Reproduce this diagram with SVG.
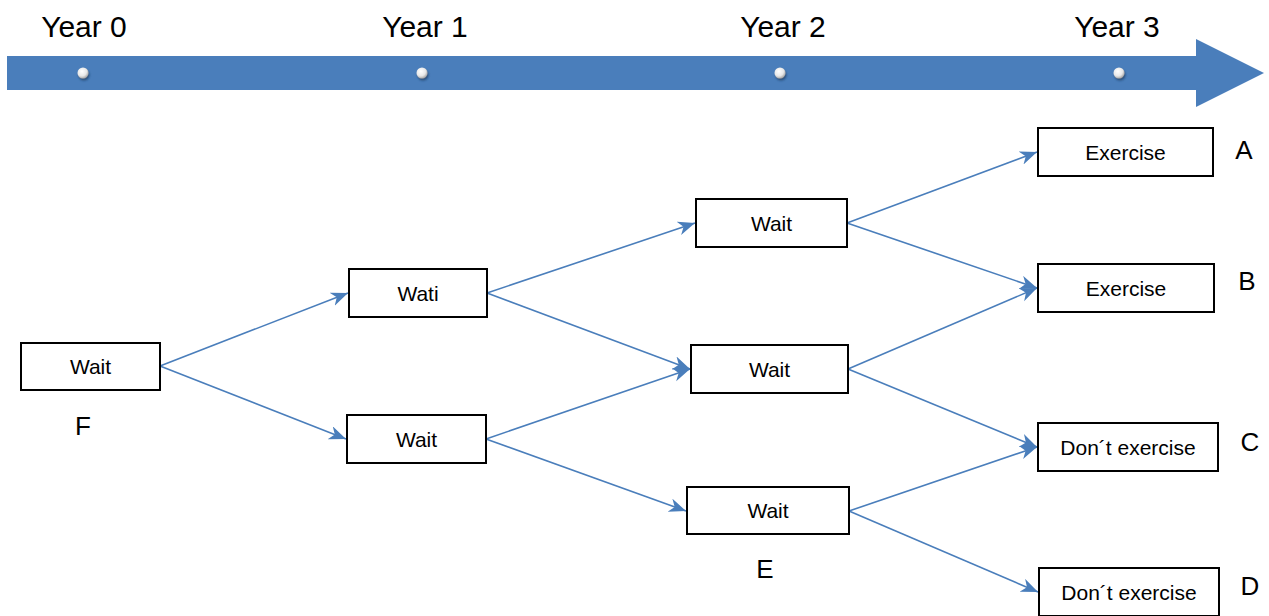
<svg xmlns="http://www.w3.org/2000/svg" width="1269" height="616" viewBox="0 0 1269 616">
  <style>
    .year { font-family: "Liberation Sans", Arial, sans-serif; font-size: 30px; fill: #000; text-anchor: middle; }
    .tag { font-family: "Liberation Sans", Arial, sans-serif; font-size: 26px; fill: #000; text-anchor: middle; }
    .box { fill: #fff; stroke: #000; stroke-width: 2; }
    .lbl { font-family: "Liberation Sans", Arial, sans-serif; font-size: 21px; fill: #000; text-anchor: middle; }
    .edge { fill: none; stroke: #4a7ebb; stroke-width: 1.6; marker-end: url(#head); }
  </style>
  <defs>
    <marker id="head" markerUnits="userSpaceOnUse" markerWidth="20" markerHeight="16" refX="17" refY="7" orient="auto">
      <path d="M0,0 L17,7 L0,14 L5,7 z" fill="#4a7ebb"/>
    </marker>
    <radialGradient id="pearl" cx="0.4" cy="0.35" r="0.7">
      <stop offset="0" stop-color="#ffffff"/>
      <stop offset="0.6" stop-color="#e8e8e8"/>
      <stop offset="1" stop-color="#9a9a9a"/>
    </radialGradient>
    <filter id="dotShadow" x="-1" y="-1" width="3" height="3">
      <feDropShadow dx="1" dy="2" stdDeviation="1.2" flood-color="#1d3a5e" flood-opacity="0.7"/>
    </filter>
  </defs>

  <!-- timeline -->
  <g id="timeline">
    <path d="M7,56 H1196 V39 L1264,73 L1196,107 V90 H7 z" fill="#4a7ebb"/>
    <g filter="url(#dotShadow)" fill="url(#pearl)">
      <circle cx="83" cy="73" r="5.5"/>
      <circle cx="422" cy="73" r="5.5"/>
      <circle cx="780" cy="73" r="5.5"/>
      <circle cx="1119" cy="73" r="5.5"/>
    </g>
    <text class="year" x="84" y="37">Year 0</text>
    <text class="year" x="425" y="37">Year 1</text>
    <text class="year" x="783" y="37">Year 2</text>
    <text class="year" x="1117" y="37">Year 3</text>
  </g>

  <!-- connectors -->
  <g id="connectors">
    <line class="edge" x1="160" y1="366" x2="348" y2="293"/>
    <line class="edge" x1="160" y1="366" x2="346" y2="439"/>
    <line class="edge" x1="487" y1="293" x2="695" y2="223"/>
    <line class="edge" x1="487" y1="293" x2="690" y2="369"/>
    <line class="edge" x1="486" y1="439" x2="690" y2="369"/>
    <line class="edge" x1="486" y1="439" x2="686" y2="511"/>
    <line class="edge" x1="847" y1="223" x2="1037" y2="152"/>
    <line class="edge" x1="847" y1="223" x2="1037" y2="288"/>
    <line class="edge" x1="848" y1="369" x2="1037" y2="288"/>
    <line class="edge" x1="848" y1="369" x2="1037" y2="447"/>
    <line class="edge" x1="849" y1="511" x2="1037" y2="447"/>
    <line class="edge" x1="849" y1="511" x2="1038" y2="592"/>
  </g>

  <!-- nodes -->
  <g id="node-f">
    <rect class="box" x="21" y="343" width="139" height="47"/>
    <text class="lbl" x="90.5" y="374">Wait</text>
    <text class="tag" x="83" y="435">F</text>
  </g>
  <g id="node-y1-up">
    <rect class="box" x="349" y="269" width="138" height="48"/>
    <text class="lbl" x="418" y="300.5">Wati</text>
  </g>
  <g id="node-y1-down">
    <rect class="box" x="347" y="415" width="139" height="48"/>
    <text class="lbl" x="416.5" y="446.5">Wait</text>
  </g>
  <g id="node-y2-top">
    <rect class="box" x="696" y="199" width="151" height="48"/>
    <text class="lbl" x="771.5" y="230.5">Wait</text>
  </g>
  <g id="node-y2-mid">
    <rect class="box" x="691" y="345" width="157" height="48"/>
    <text class="lbl" x="769.5" y="376.5">Wait</text>
  </g>
  <g id="node-e">
    <rect class="box" x="687" y="487" width="162" height="47"/>
    <text class="lbl" x="768" y="518">Wait</text>
    <text class="tag" x="765" y="578">E</text>
  </g>
  <g id="node-a">
    <rect class="box" x="1038" y="128" width="175" height="48"/>
    <text class="lbl" x="1125.5" y="159.5">Exercise</text>
    <text class="tag" x="1244" y="159">A</text>
  </g>
  <g id="node-b">
    <rect class="box" x="1038" y="264" width="176" height="48"/>
    <text class="lbl" x="1126" y="295.5">Exercise</text>
    <text class="tag" x="1247" y="290">B</text>
  </g>
  <g id="node-c">
    <rect class="box" x="1038" y="423" width="180" height="48"/>
    <text class="lbl" x="1128" y="454.5">Don´t exercise</text>
    <text class="tag" x="1250" y="451">C</text>
  </g>
  <g id="node-d">
    <rect class="box" x="1039" y="568" width="180" height="48"/>
    <text class="lbl" x="1129" y="599.5">Don´t exercise</text>
    <text class="tag" x="1250" y="595">D</text>
  </g>
</svg>
